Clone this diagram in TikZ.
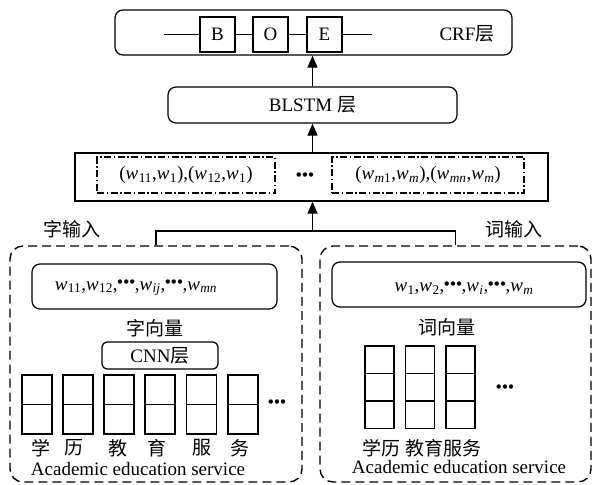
\documentclass[tikz,border=0pt]{standalone}
\usepackage{fontspec}
\setmainfont{Liberation Serif}
\newfontfamily\cjk{Noto Sans CJK SC}
\newfontfamily\dvs{DejaVu Sans}
\usepackage{graphicx}
\usetikzlibrary{arrows.meta}
\newcommand\wsub[1]{\textit{w}\kern0.02em\textsubscript{#1}}
\newcommand\bdots[1]{\raisebox{#1}{\scalebox{0.3}{\dvs ●\kern0.2em●\kern0.2em●}}}
\begin{document}
\begin{tikzpicture}[x=1pt,y=-1pt,font=\fontsize{19}{22}\selectfont,
  box/.style={draw,line width=1.25pt,inner sep=0pt},
  rbox/.style={box,rounded corners=8pt},
  dashbox/.style={draw,line width=1.4pt,dash pattern=on 9pt off 5pt,rounded corners=13pt,inner sep=0pt},
  ddbox/.style={draw,line width=1.2pt,dash pattern=on 7pt off 2.5pt on 1.5pt off 2.5pt,inner sep=0pt},
  cell/.style={draw,line width=1.25pt,minimum width=30pt,inner sep=0pt},
  conn/.style={line width=1.25pt},
  arr/.style={-{Triangle[length=12pt,width=10pt]},line width=1.25pt},
  txt/.style={inner sep=0pt}]
\useasboundingbox (0,0) rectangle (593,484);

% CRF layer
\node[rbox,minimum width=397pt,minimum height=45pt] (crf) at (313.5,32.5) {};
\coordinate (ls) at (164,34.5);
\coordinate (le) at (372,34.5);
\node[box,minimum width=35pt,minimum height=35pt] (b) at (217.5,34.5) {B};
\node[box,minimum width=35pt,minimum height=35pt] (o) at (270.5,34.5) {O};
\node[box,minimum width=35pt,minimum height=35pt] (e) at (324.5,34.5) {E};
\draw[conn] (ls) -- (b) -- (o) -- (e) -- (le);
\node[txt] (crft) at (467,34) {CRF{\cjk 层}};

% BLSTM
\node[rbox,minimum width=289pt,minimum height=36pt] (blstm) at (312.5,105) {BLSTM {\cjk 层}};

% feature box
\node[box,minimum width=473pt,minimum height=48pt] (feat) at (311.5,177) {};
\node[ddbox,minimum width=178pt,minimum height=36pt] (dd1) at (186,175)
  {(\wsub{11},\wsub{1}),(\wsub{12},\wsub{1})};
\node[ddbox,minimum width=192pt,minimum height=36pt] (dd2) at (428,175)
  {(\wsub{\textit{m}1},\wsub{\textit{m}}),(\wsub{\textit{mn}},\wsub{\textit{m}})};
\node[txt] (fdots) at (305,175) {\bdots{0em}};

% arrows
\draw[arr] (blstm.north) -- (blstm.north |- crf.south);
\draw[arr] (blstm.south |- feat.north) -- (blstm.south);
\coordinate (jn) at (312.5,231);

% input boxes
\node[dashbox,minimum width=292pt,minimum height=236pt] (lbox) at (156,364) {};
\node[dashbox,minimum width=271pt,minimum height=236pt] (rbox) at (455.5,364) {};
\draw[conn] (lbox.north) -- (lbox.north |- jn) -- (rbox.north |- jn) -- (rbox.north);
\draw[arr] (jn) -- (jn |- feat.south);
\node[txt] (zi) at (72,229) {\cjk 字输入};
\node[txt] (ci) at (514,229) {\cjk 词输入};

% left side
\node[rbox,minimum width=245pt,minimum height=45pt] (lvec) at (154.5,286.5) {};
\node[txt] (lvect) at (136,288) {\wsub{11},\wsub{12},\bdots{0.33em},\wsub{\textit{ij}},\bdots{0.33em},\wsub{\textit{mn}}};
\node[txt] (zxl) at (155,328) {\cjk 字向量};
\node[box,rounded corners=5pt,minimum width=116pt,minimum height=27pt] (cnn) at (160,355.5) {CNN{\cjk 层}};
\foreach \x [count=\i] in {37,78,119,160,201.5,243}{
  \node[cell,minimum height=29.5pt] (ca\i) at (\x,389.75) {};
  \node[cell,minimum height=29.5pt] (cb\i) at (\x,419.25) {};
}
\node[txt] (ldots) at (277,402) {\bdots{0em}};
\foreach \x/\c [count=\i] in {41/学,74/历,118/教,157/育,202/服,240/务}{
  \node[txt] (ch\i) at (\x,448) {\cjk \c};
}
\node[txt] (laes) at (138,469) {Academic education service};

% right side
\node[rbox,minimum width=254pt,minimum height=45pt] (rvec) at (459,284.5) {};
\node[txt] (rvect) at (464,288) {\wsub{1},\wsub{2},\bdots{0.33em},\wsub{\textit{i}},\bdots{0.33em},\wsub{\textit{m}}};
\node[txt] (cxl) at (447,327) {\cjk 词向量};
\foreach \x [count=\i] in {379.5,420,460.5}{
  \node[cell,minimum width=29pt,minimum height=27.5pt] (wa\i) at (\x,359.75) {};
  \node[cell,minimum width=29pt,minimum height=27.5pt] (wb\i) at (\x,387.25) {};
  \node[cell,minimum width=29pt,minimum height=27.5pt] (wc\i) at (\x,414.75) {};
}
\node[txt] (rdots) at (505,387) {\bdots{0em}};
\node[txt] (rch) at (422,448) {\cjk 学历 教育服务};
\node[txt] (raes) at (459,467) {Academic education service};
\end{tikzpicture}
\end{document}
